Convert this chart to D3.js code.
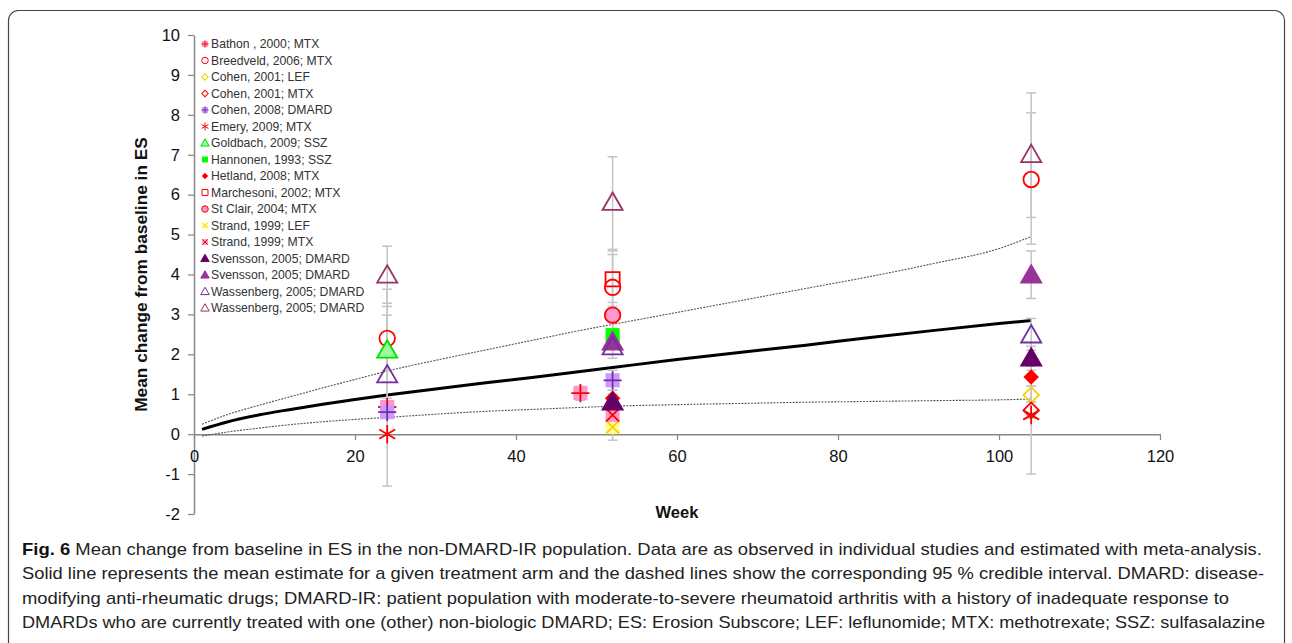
<!DOCTYPE html>
<html>
<head>
<meta charset="utf-8">
<script src="https://cdn.jsdelivr.net/npm/d3@7"></script>
<style>
  body { margin: 0; background: #fff; }
  svg { display: block; font-family: "Liberation Sans", Arial, sans-serif; }
</style>
</head>
<body>
<svg width="1292" height="643"></svg>
<script>
const width = 1292,
      height = 643

// legend entries (study; treatment)
const studies = [
  "Bathon , 2000; MTX", "Breedveld, 2006; MTX", "Cohen, 2001; LEF", "Cohen, 2001; MTX",
  "Cohen, 2008; DMARD", "Emery, 2009; MTX", "Goldbach, 2009; SSZ", "Hannonen, 1993; SSZ",
  "Hetland, 2008; MTX", "Marchesoni, 2002; MTX", "St Clair, 2004; MTX", "Strand, 1999; LEF",
  "Strand, 1999; MTX", "Svensson, 2005; DMARD", "Svensson, 2005; DMARD",
  "Wassenberg, 2005; DMARD", "Wassenberg, 2005; DMARD"
]

// observed points: study index, week, mean, lower, upper
const obsStudy = [0, 0, 1, 1, 1, 2, 3, 4, 4, 5, 5, 6, 7, 8, 8, 9, 10, 11, 12, 13, 13, 14, 14, 15, 15, 15, 16, 16, 16]
const obsWeek  = [24, 48, 24, 52, 104, 104, 104, 24, 52, 24, 104, 24, 52, 52, 104, 52, 52, 52, 52, 52, 104, 52, 104, 24, 52, 104, 24, 52, 104]
const obsValue = [0.68, 1.03, 2.4, 3.68, 6.38, 0.98, 0.6, 0.55, 1.35, 0.0, 0.48, 2.1, 2.48, 0.9, 1.43, 3.88, 2.98, 0.18, 0.48, 0.8, 1.9, 2.3, 3.98, 1.48, 2.18, 2.48, 3.98, 5.8, 7.0]
const obsLow   = [0.5, 0.85, 1.6, 2.9, 4.76, 0.8, 0.4, 0.4, 1.1, -1.3, -1.0, 1.3, 2.2, 0.7, 1.2, 3.2, 2.6, -0.15, 0.3, 0.6, 1.6, 2.0, 3.4, 0.8, 1.9, 2.1, 3.28, 4.63, 5.43]
const obsHigh  = [0.9, 1.2, 3.63, 4.5, 8.05, 1.2, 0.8, 0.7, 1.6, 1.3, 1.9, 2.98, 2.8, 1.1, 1.7, 4.59, 3.3, 0.55, 0.7, 1.0, 2.2, 2.6, 4.59, 3.2, 2.5, 2.9, 4.71, 6.95, 8.55]

// meta-analysis estimate and 95% credible interval
const fitWeek  = [1, 4, 8, 12, 16, 20, 24, 30, 36, 42, 48, 52, 60, 68, 76, 84, 92, 100, 104]
const fitMean  = [0.12, 0.3, 0.48, 0.62, 0.75, 0.87, 0.98, 1.13, 1.28, 1.42, 1.57, 1.67, 1.87, 2.05, 2.23, 2.42, 2.6, 2.77, 2.85]
const fitUpper = [0.25, 0.48, 0.72, 0.94, 1.16, 1.37, 1.58, 1.85, 2.1, 2.35, 2.6, 2.75, 3.05, 3.35, 3.65, 3.95, 4.28, 4.65, 4.95]
const fitLower = [-0.05, 0.05, 0.15, 0.24, 0.31, 0.37, 0.42, 0.5, 0.57, 0.62, 0.67, 0.7, 0.74, 0.77, 0.8, 0.82, 0.84, 0.86, 0.88]

const xTicks = [0, 20, 40, 60, 80, 100, 120]
const yTicks = [-2, -1, 0, 1, 2, 3, 4, 5, 6, 7, 8, 9, 10]

const captionLines = [
  " Mean change from baseline in ES in the non-DMARD-IR population. Data are as observed in individual studies and estimated with meta-analysis.",
  "Solid line represents the mean estimate for a given treatment arm and the dashed lines show the corresponding 95 % credible interval. DMARD: disease-",
  "modifying anti-rheumatic drugs; DMARD-IR: patient population with moderate-to-severe rheumatoid arthritis with a history of inadequate response to",
  "DMARDs who are currently treated with one (other) non-biologic DMARD; ES: Erosion Subscore; LEF: leflunomide; MTX: methotrexate; SSZ: sulfasalazine"
]

// marker style per study: shape, fill, stroke, overlay glyph
const markers = [
  {shape: "square", fill: "#ff99cc", stroke: "none", mark: "plus", markColor: "#ff0000"},
  {shape: "circle", fill: "none", stroke: "#ff0000"},
  {shape: "diamond", fill: "none", stroke: "#ffcc00"},
  {shape: "diamond", fill: "none", stroke: "#ff0000"},
  {shape: "square", fill: "#cc99ff", stroke: "none", mark: "plus", markColor: "#7030a0"},
  {shape: "asterisk", fill: "none", stroke: "#ff0000"},
  {shape: "triangle", fill: "#99ff99", stroke: "#00dd00"},
  {shape: "square", fill: "#00ff00", stroke: "none"},
  {shape: "diamond", fill: "#ff0000", stroke: "none"},
  {shape: "square", fill: "none", stroke: "#ff0000"},
  {shape: "circle", fill: "#ff99cc", stroke: "#ff0000"},
  {shape: "square", fill: "#ffff99", stroke: "none", mark: "x", markColor: "#ffcc00"},
  {shape: "square", fill: "#ff99cc", stroke: "none", mark: "x", markColor: "#ff0000"},
  {shape: "triangle", fill: "#660066", stroke: "#660066"},
  {shape: "triangle", fill: "#993399", stroke: "#993399"},
  {shape: "triangle", fill: "none", stroke: "#7030a0"},
  {shape: "triangle", fill: "none", stroke: "#993366"}
]

const margin = {left: 194, right: 132, top: 35, bottom: 129}

const svg = d3.select("svg")

svg.append("rect")
  .attr("x", 8.5).attr("y", 10.5)
  .attr("width", 1276).attr("height", 660)
  .attr("rx", 10)
  .attr("fill", "none")
  .attr("stroke", "#444")
  .attr("stroke-width", 1.2)

const x = d3.scaleLinear().domain([0, 120]).range([margin.left, width - margin.right])
const y = d3.scaleLinear().domain([-2, 10]).range([height - margin.bottom, margin.top])

// axes (plain hyphen for negatives, as in the original)
const yAxis = svg.append("g")
  .attr("transform", `translate(${margin.left},0)`)
  .call(d3.axisLeft(y).tickValues(yTicks).tickFormat(d => String(d)).tickSize(6).tickPadding(8).tickSizeOuter(0))
const xAxis = svg.append("g")
  .attr("transform", `translate(0,${y(0)})`)
  .call(d3.axisBottom(x).tickValues(xTicks).tickFormat(d => String(d)).tickSize(6).tickPadding(8).tickSizeOuter(0))

;[xAxis, yAxis].forEach(g => {
  g.select(".domain").attr("stroke", "#868686").attr("stroke-width", 1.5)
  g.selectAll(".tick line").attr("stroke", "#868686").attr("stroke-width", 1.2)
  g.selectAll(".tick text")
    .attr("fill", "#111")
    .style("font-size", "16.5px")
    .style("font-family", "'Liberation Sans', Arial, sans-serif")
})
xAxis.selectAll(".tick text").attr("dy", "0.85em")

svg.append("text")
  .attr("transform", `translate(147,${y(4)}) rotate(-90)`)
  .attr("text-anchor", "middle")
  .style("font-size", "17.3px")
  .style("font-weight", "bold")
  .attr("fill", "#111")
  .text("Mean change from baseline in ES")

svg.append("text")
  .attr("x", x(60)).attr("y", 518)
  .attr("text-anchor", "middle")
  .style("font-size", "16.5px")
  .style("font-weight", "bold")
  .attr("fill", "#111")
  .text("Week")

// fitted curves
const fitLine = vals => d3.line()
  .x((d, i) => x(fitWeek[i]))
  .y((d, i) => y(vals[i]))
  .curve(d3.curveMonotoneX)(vals)

;[fitUpper, fitLower].forEach(vals => {
  svg.append("path")
    .attr("d", fitLine(vals))
    .attr("fill", "none")
    .attr("stroke", "#555")
    .attr("stroke-width", 1.1)
    .attr("stroke-dasharray", "2,1.2")
})
svg.append("path")
  .attr("d", fitLine(fitMean))
  .attr("fill", "none")
  .attr("stroke", "#000")
  .attr("stroke-width", 3)

const obs = obsStudy.map((s, i) => ({
  study: s, week: obsWeek[i], value: obsValue[i], lo: obsLow[i], hi: obsHigh[i]
}))

// error bars
const eb = svg.append("g").attr("stroke", "#c4c4c4").attr("stroke-width", 1.5)
obs.forEach(d => {
  eb.append("line")
    .attr("x1", x(d.week)).attr("x2", x(d.week))
    .attr("y1", y(d.lo)).attr("y2", y(d.hi))
  ;[d.lo, d.hi].forEach(v => {
    eb.append("line")
      .attr("x1", x(d.week) - 5).attr("x2", x(d.week) + 5)
      .attr("y1", y(v)).attr("y2", y(v))
  })
})

const drawMarker = (g, m, cx, cy, k) => {
  const grp = g.append("g").attr("transform", `translate(${cx},${cy})`)
  const sw = k < 1 ? 1 : 1.8
  if (m.shape === "square") {
    grp.append("path").attr("d", d3.symbol(d3.symbolSquare, 200 * k * k)())
  } else if (m.shape === "circle") {
    grp.append("path").attr("d", d3.symbol(d3.symbolCircle, 190 * k * k)())
  } else if (m.shape === "diamond") {
    grp.append("path").attr("d", d3.symbol(d3.symbolSquare, 120 * k * k)()).attr("transform", "rotate(45)")
  } else if (m.shape === "triangle") {
    grp.append("path").attr("d", d3.symbol(d3.symbolTriangle, 175 * k * k)()).attr("transform", `translate(0,${1.5 * k})`)
  } else if (m.shape === "asterisk") {
    grp.append("path").attr("d", d3.symbol(d3.symbolAsterisk, 240 * k * k)())
  }
  grp.select("path")
    .attr("fill", m.fill)
    .attr("stroke", m.stroke)
    .attr("stroke-width", sw)
  if (m.mark) {
    const sym = m.mark === "plus" ? d3.symbolPlus : d3.symbolX
    grp.append("path")
      .attr("d", d3.symbol(sym, 110 * k * k)())
      .attr("fill", "none")
      .attr("stroke", m.markColor)
      .attr("stroke-width", sw)
  }
}

const pts = svg.append("g")
obs.forEach(d => drawMarker(pts, markers[d.study], x(d.week), y(d.value), 1))

// legend
const lg = svg.append("g")
studies.forEach((s, i) => {
  const ly = 44 + i * 16.5
  drawMarker(lg, markers[i], 205, ly, 0.42)
  lg.append("text")
    .attr("x", 211).attr("y", ly)
    .attr("dy", "0.35em")
    .style("font-size", "12.2px")
    .attr("fill", "#333")
    .text(s)
})

// caption
const capEnds = [1262, 1264, 1229, 1265]
captionLines.forEach((line, i) => {
  const t = svg.append("text")
    .attr("x", 22).attr("y", 555 + i * 24.3)
    .attr("textLength", capEnds[i] - 22)
    .attr("lengthAdjust", "spacingAndGlyphs")
    .style("font-family", "'Liberation Sans Narrow', 'Liberation Sans', Arial, sans-serif")
    .style("font-size", "17px")
    .attr("fill", "#222")
  if (i === 0) {
    t.append("tspan").style("font-weight", "bold").attr("fill", "#111").text("Fig. 6")
  }
  t.append("tspan").text(line)
})
</script>
</body>
</html>
